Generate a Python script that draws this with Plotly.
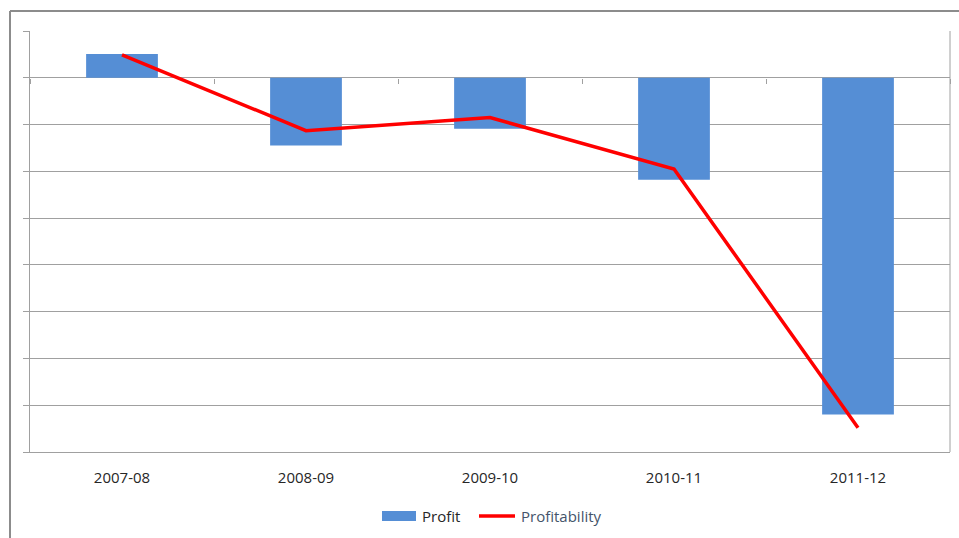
import plotly.graph_objects as go

categories = ["2007-08", "2008-09", "2009-10", "2010-11", "2011-12"]
profit = [0.51, -1.45, -1.09, -2.18, -7.2]
profitability = [0.49, -1.13, -0.85, -1.95, -7.48]
y_tickvals = [-8, -7, -6, -5, -4, -3, -2, -1, 0, 1]
legend_labels = ["Profit", "Profitability"]

BAR = "#558ed5"
LINE = "#ff0000"
GRID = "#a0a0a0"
FONT = "Open Sans"

fig = go.Figure()
fig.add_trace(go.Bar(
    x=categories, y=profit, name=legend_labels[0],
    marker=dict(color=BAR, line=dict(width=0)),
    width=0.39, showlegend=False,
))
fig.add_trace(go.Scatter(
    x=categories, y=profitability, name=legend_labels[1],
    mode="lines", line=dict(color=LINE, width=3.5),
    xaxis="x2", showlegend=False,
))

# paper-coordinate helpers (plot area: x 30..950, y 31..452)
PW, PH = 920.0, 421.0
def px(x):
    return (x - 30) / PW
def py(y):
    return (452 - y) / PH

shapes = [
    # plot-area right border
    dict(type="line", xref="paper", yref="paper", x0=1, x1=1, y0=0, y1=1,
         line=dict(color=GRID, width=1)),
    # outer chart frame (top and left)
    dict(type="line", xref="paper", yref="paper", x0=px(10), x1=px(965),
         y0=py(11), y1=py(11), line=dict(color="#8c8c8c", width=2)),
    dict(type="line", xref="paper", yref="paper", x0=px(10), x1=px(10),
         y0=py(545), y1=py(11), line=dict(color="#8c8c8c", width=2)),
    # legend symbols
    dict(type="rect", xref="paper", yref="paper", x0=px(382), x1=px(416),
         y0=py(521), y1=py(511), fillcolor=BAR, line=dict(width=0)),
    dict(type="line", xref="paper", yref="paper", x0=px(479), x1=px(515),
         y0=py(516), y1=py(516), line=dict(color=LINE, width=3.5)),
]
annotations = [
    dict(xref="paper", yref="paper", x=px(420), y=py(516), xanchor="left",
         yanchor="middle", text=legend_labels[0], showarrow=False,
         font=dict(family=FONT, size=15, color="#262626")),
    dict(xref="paper", yref="paper", x=px(519), y=py(516), xanchor="left",
         yanchor="middle", text=legend_labels[1], showarrow=False,
         font=dict(family=FONT, size=15, color="#44546a")),
]

fig.update_layout(
    width=959, height=538,
    margin=dict(l=30, r=9, t=31, b=86, autoexpand=False),
    paper_bgcolor="white", plot_bgcolor="white",
    font=dict(family=FONT, size=15, color="#262626"),
    showlegend=False,
    xaxis=dict(type="category", categoryorder="array", categoryarray=categories,
               showgrid=False, showline=True, linecolor=GRID, linewidth=1,
               ticks="", tickfont=dict(size=15, color="#262626"),
               ticklabelstandoff=12, range=[-0.5, 4.5], automargin=False),
    xaxis2=dict(type="category", categoryorder="array", categoryarray=categories,
                overlaying="x", matches="x", anchor="free", position=374/421,
                showline=False, showgrid=False, showticklabels=False,
                tickson="boundaries", ticks="outside", ticklen=5, tickcolor=GRID,
                tickwidth=1, automargin=False),
    yaxis=dict(range=[-8, 1], tickvals=y_tickvals, showticklabels=False,
               showgrid=True, gridcolor=GRID, gridwidth=1,
               zeroline=True, zerolinecolor=GRID, zerolinewidth=1,
               showline=True, linecolor=GRID, linewidth=1,
               ticks="outside", ticklen=6, tickcolor=GRID, automargin=False),
    bargap=0.61,
    shapes=shapes,
    annotations=annotations,
)

fig.write_html("out.html",
               config={"displayModeBar": False},
               post_script="document.body.style.margin='0';document.body.style.overflow='hidden';")
